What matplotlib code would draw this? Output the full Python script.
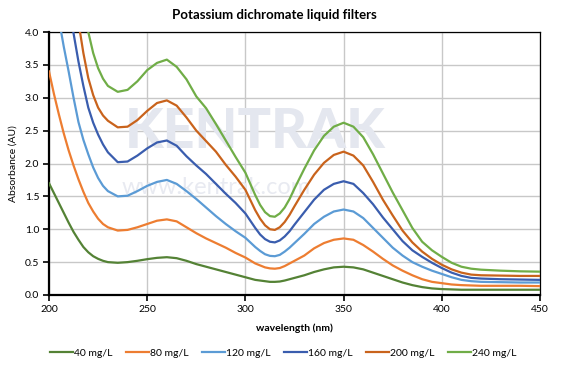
import matplotlib
matplotlib.use("Agg")
import matplotlib.pyplot as plt

wavelength = [200, 202.5, 205, 207.5, 210, 212.5, 215, 217.5, 220, 222.5, 225, 227.5, 230,
              235, 240, 245, 250, 255, 260, 265, 270, 275, 280, 285, 290, 295, 300,
              305, 307.5, 310, 312.5, 315, 317.5, 320, 322.5, 325, 330, 335, 340, 345,
              350, 355, 360, 365, 370, 375, 380, 385, 390, 395, 400, 405, 410, 415, 420,
              430, 440, 450]

a40 = [1.70, 1.55, 1.40, 1.25, 1.10, 0.96, 0.84, 0.73, 0.65, 0.59, 0.55, 0.52, 0.50,
       0.49, 0.50, 0.52, 0.545, 0.565, 0.575, 0.56, 0.52, 0.47, 0.43, 0.39, 0.35, 0.31, 0.27,
       0.23, 0.22, 0.21, 0.20, 0.20, 0.205, 0.22, 0.24, 0.26, 0.30, 0.35, 0.39, 0.42,
       0.43, 0.42, 0.39, 0.34, 0.29, 0.24, 0.19, 0.15, 0.12, 0.10, 0.09, 0.085, 0.08, 0.08, 0.08,
       0.08, 0.08, 0.08]
a80 = [3.40, 3.06, 2.75, 2.46, 2.20, 1.97, 1.76, 1.57, 1.40, 1.27, 1.16, 1.08, 1.03,
       0.98, 0.99, 1.03, 1.08, 1.13, 1.15, 1.12, 1.03, 0.94, 0.86, 0.79, 0.72, 0.64, 0.57,
       0.48, 0.45, 0.42, 0.405, 0.40, 0.41, 0.44, 0.48, 0.52, 0.60, 0.71, 0.79, 0.84,
       0.86, 0.84, 0.76, 0.66, 0.55, 0.45, 0.37, 0.30, 0.24, 0.20, 0.18, 0.16, 0.15, 0.145, 0.14,
       0.14, 0.14, 0.135]
a120 = [5.10, 4.62, 4.20, 3.78, 3.40, 3.00, 2.63, 2.36, 2.14, 1.94, 1.78, 1.66, 1.58,
        1.50, 1.51, 1.58, 1.66, 1.72, 1.75, 1.69, 1.58, 1.46, 1.33, 1.20, 1.08, 0.97, 0.87,
        0.73, 0.67, 0.62, 0.595, 0.59, 0.61, 0.66, 0.72, 0.79, 0.93, 1.08, 1.19, 1.27,
        1.30, 1.27, 1.17, 1.02, 0.87, 0.72, 0.60, 0.50, 0.43, 0.37, 0.32, 0.27, 0.23, 0.21, 0.20,
        0.195, 0.19, 0.19]
a160 = [6.80, 6.20, 5.60, 5.00, 4.45, 3.98, 3.55, 3.18, 2.85, 2.62, 2.44, 2.29, 2.17,
        2.02, 2.03, 2.12, 2.23, 2.32, 2.35, 2.27, 2.11, 1.97, 1.84, 1.69, 1.54, 1.40, 1.24,
        1.02, 0.92, 0.85, 0.81, 0.80, 0.83, 0.89, 0.97, 1.07, 1.26, 1.45, 1.60, 1.69,
        1.73, 1.69, 1.55, 1.38, 1.18, 1.00, 0.82, 0.68, 0.58, 0.49, 0.41, 0.34, 0.29, 0.26, 0.25,
        0.24, 0.235, 0.23]
a200 = [8.50, 7.70, 7.00, 6.20, 5.50, 4.80, 4.15, 3.68, 3.30, 3.04, 2.85, 2.73, 2.65,
        2.55, 2.56, 2.66, 2.80, 2.92, 2.96, 2.88, 2.70, 2.50, 2.34, 2.18, 1.98, 1.80, 1.60,
        1.29, 1.16, 1.06, 1.00, 0.99, 1.03, 1.11, 1.22, 1.35, 1.60, 1.83, 2.01, 2.13,
        2.18, 2.12, 1.97, 1.72, 1.45, 1.21, 0.98, 0.80, 0.66, 0.55, 0.46, 0.39, 0.34, 0.31, 0.30,
        0.295, 0.29, 0.29]
a240 = [10.2, 9.30, 8.40, 7.50, 6.60, 5.80, 5.00, 4.45, 4.00, 3.68, 3.45, 3.29, 3.18,
        3.09, 3.12, 3.25, 3.42, 3.53, 3.58, 3.47, 3.28, 3.02, 2.84, 2.60, 2.35, 2.10, 1.86,
        1.52, 1.37, 1.26, 1.20, 1.19, 1.24, 1.33, 1.46, 1.62, 1.92, 2.20, 2.42, 2.56,
        2.62, 2.56, 2.40, 2.14, 1.85, 1.56, 1.29, 1.02, 0.81, 0.68, 0.58, 0.49, 0.43, 0.40, 0.385,
        0.37, 0.36, 0.355]

labels = ["40 mg/L", "80 mg/L", "120 mg/L", "160 mg/L", "200 mg/L", "240 mg/L"]
series = [a40, a80, a120, a160, a200, a240]
colors = ["#548235", "#ED7D31", "#5B9BD5", "#3A5DAE", "#C9631C", "#70AD47"]

xticks = [200, 250, 300, 350, 400, 450]
yticks = [0.0, 0.5, 1.0, 1.5, 2.0, 2.5, 3.0, 3.5, 4.0]

plt.rcParams['font.family'] = ['Lato', 'DejaVu Sans']

fig = plt.figure(figsize=(5.63, 3.74), dpi=100)
ax = fig.add_axes([49/563, 1-295/374, (540-49)/563, (295-32)/374])

for vals, lab, col in zip(series, labels, colors):
    ax.plot(wavelength, vals, color=col, lw=1.6, label=lab, zorder=3,
            solid_joinstyle='round')

ax.set_xlim(200, 450)
ax.set_ylim(0, 4.0)
ax.set_xticks(xticks)
ax.set_yticks(yticks)
ax.set_yticklabels([f"{v:.1f}" for v in yticks])
ax.grid(True, color="#C8C8C8", lw=1.0, zorder=0)
ax.set_axisbelow(True)
ax.tick_params(axis='both', labelsize=7.5, direction='out', length=4, width=1.2, pad=3)
for s in ['left', 'bottom']:
    ax.spines[s].set_linewidth(1.6)
for s in ['top', 'right']:
    ax.spines[s].set_linewidth(0.9)
for s in ax.spines.values():
    s.set_color('black')

# faint watermark
ax.text(0.42, 0.62, "KENTRAK", transform=ax.transAxes, fontsize=40, fontweight='black',
        color='#E4E7EF', ha='center', va='center', zorder=1)
ax.text(0.34, 0.41, "www.kentrak.com", transform=ax.transAxes, fontsize=17,
        color='#E8EAF1', ha='center', va='center', zorder=1)

ax.set_xlabel("wavelength (nm)", fontsize=7.5, fontweight='bold', labelpad=7)
ax.set_ylabel("Absorbance (AU)", fontsize=7.5, labelpad=5)
fig.text(274.5/563, 1-15/374, "Potassium dichromate liquid filters", ha='center', va='center',
         fontsize=9.5, fontweight='bold')

fig.legend(loc='center', bbox_to_anchor=(283.5/563, 1-353/374), ncol=6, frameon=False,
           fontsize=7.5, handlelength=2.2, handletextpad=0.1, columnspacing=1.3)

fig.savefig("out.png", dpi=100)
